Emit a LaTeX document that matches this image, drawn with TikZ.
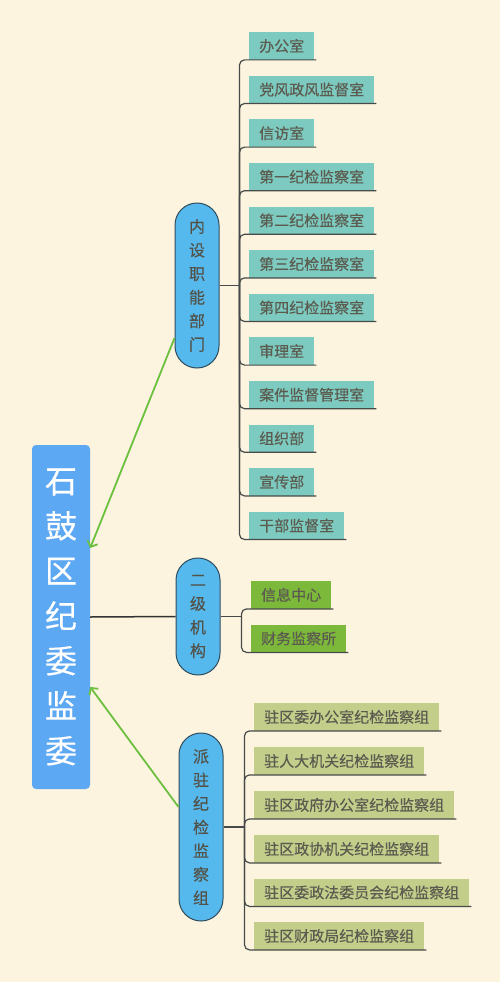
\documentclass[tikz,border=0pt]{standalone}
\usepackage{fontspec}
\setmainfont{Noto Sans CJK SC}[FakeBold=0.3]
\usepackage{xcolor}
\definecolor{cream}{HTML}{FCF4DF}
\definecolor{rootblue}{HTML}{5DA8F2}
\definecolor{pillblue}{HTML}{56B9EE}
\definecolor{pillline}{HTML}{2F4B5E}
\definecolor{tealbox}{HTML}{7DCBC0}
\definecolor{greenbox}{HTML}{7CB93B}
\definecolor{olivebox}{HTML}{C4CE8B}
\definecolor{stemgray}{HTML}{464A48}
\definecolor{linkgreen}{HTML}{6DBF3F}
\definecolor{leaftext}{HTML}{5C5B50}
\usepackage{tikz}
\usetikzlibrary{arrows.meta}

\begin{document}
\begin{tikzpicture}[x=1pt,y=-1pt,
		rootbox/.style={fill=rootblue,rounded corners=4pt,minimum width=58pt,minimum height=344pt,inner sep=0pt,align=center,text=white,font=\fontsize{32}{45}\selectfont},
		pill/.style={draw=pillline,fill=pillblue,line width=1pt,rounded corners=22pt,minimum width=44pt,inner sep=0pt,align=center,text=leaftext!90!black,font=\fontsize{16}{23.6}\selectfont},
		leaf/.style={anchor=north west,minimum height=27.5pt,inner xsep=10pt,inner ysep=0pt,text=leaftext,font=\fontsize{15}{18}\selectfont},
		stem/.style={draw=stemgray,line width=1.2pt,rounded corners=5pt},
		link/.style={draw=linkgreen,line width=1.8pt,-{Straight Barb[length=5pt,width=11pt]}}]
		\useasboundingbox[fill=cream] (0,0) rectangle (500,982);
		
		\node[rootbox] (root) at (61,617) {石\\鼓\\区\\纪\\委\\监\\委};
		
		\node[pill,minimum height=165pt] (inner) at (197,285.5) {内\\设\\职\\能\\部\\门};
		\node[pill,minimum height=117pt] (second) at (198,616.5) {二\\级\\机\\构};
		\node[pill,minimum height=188pt] (posted) at (201,827) {派\\驻\\纪\\检\\监\\察\\组};
		
		\draw[link] ([yshift=-52.5pt]inner.west) -- ([yshift=69pt]root.east); %%% ARROW UP
		\draw[stem,draw=black!80,line width=1.5pt] (root.east) -- (second.west);
		\draw[link] ([yshift=20pt]posted.west) -- ([yshift=-70pt]root.east); %%% ARROW DOWN
		
		%%% INNER DEPARTMENTS
		\node[leaf,fill=tealbox] (in1) at (249,32) {办公室};
		\node[leaf,fill=tealbox] (in2) at (249,75.6) {党风政风监督室};
		\node[leaf,fill=tealbox] (in3) at (249,119.2) {信访室};
		\node[leaf,fill=tealbox] (in4) at (249,162.8) {第一纪检监察室};
		\node[leaf,fill=tealbox] (in5) at (249,206.4) {第二纪检监察室};
		\node[leaf,fill=tealbox] (in6) at (249,250) {第三纪检监察室};
		\node[leaf,fill=tealbox] (in7) at (249,293.6) {第四纪检监察室};
		\node[leaf,fill=tealbox] (in8) at (249,337.2) {审理室};
		\node[leaf,fill=tealbox] (in9) at (249,380.8) {案件监督管理室};
		\node[leaf,fill=tealbox] (in10) at (249,424.4) {组织部};
		\node[leaf,fill=tealbox] (in11) at (249,468) {宣传部};
		\node[leaf,fill=tealbox] (in12) at (249,511.6) {干部监督室};
		
		\coordinate (injoin) at ([xshift=20pt]inner.east);
		\draw[stem] (inner.east) -- (injoin);
		\draw[stem] (injoin) |- ([xshift=2pt]in1.south east);
		\draw[stem] (injoin) |- ([xshift=2pt]in2.south east);
		\draw[stem] (injoin) |- ([xshift=2pt]in3.south east);
		\draw[stem] (injoin) |- ([xshift=2pt]in4.south east);
		\draw[stem] (injoin) |- ([xshift=2pt]in5.south east);
		\draw[stem] (injoin) |- ([xshift=2pt]in6.south east);
		\draw[stem] (injoin) |- ([xshift=2pt]in7.south east);
		\draw[stem] (injoin) |- ([xshift=2pt]in8.south east);
		\draw[stem] (injoin) |- ([xshift=2pt]in9.south east);
		\draw[stem] (injoin) |- ([xshift=2pt]in10.south east);
		\draw[stem] (injoin) |- ([xshift=2pt]in11.south east);
		\draw[stem] (injoin) |- ([xshift=2pt]in12.south east);
		
		%%% SECOND LEVEL UNITS
		\node[leaf,fill=greenbox] (sec1) at (251,581) {信息中心};
		\node[leaf,fill=greenbox] (sec2) at (251,624.5) {财务监察所};
		
		\coordinate (secjoin) at ([xshift=21pt]second.east);
		\draw[stem] (second.east) -- (secjoin);
		\draw[stem] (secjoin) |- ([xshift=2pt]sec1.south east);
		\draw[stem] (secjoin) |- ([xshift=2pt]sec2.south east);
		
		%%% POSTED GROUPS
		\node[leaf,fill=olivebox] (pos1) at (254,703) {驻区委办公室纪检监察组};
		\node[leaf,fill=olivebox] (pos2) at (254,747) {驻人大机关纪检监察组};
		\node[leaf,fill=olivebox] (pos3) at (254,791) {驻区政府办公室纪检监察组};
		\node[leaf,fill=olivebox] (pos4) at (254,835) {驻区政协机关纪检监察组};
		\node[leaf,fill=olivebox] (pos5) at (254,878.5) {驻区委政法委员会纪检监察组};
		\node[leaf,fill=olivebox] (pos6) at (254,922) {驻区财政局纪检监察组};
		
		\coordinate (posjoin) at ([xshift=21pt]posted.east);
		\draw[stem] (posted.east) -- (posjoin);
		\draw[stem] (posjoin) |- ([xshift=2pt]pos1.south east);
		\draw[stem] (posjoin) |- ([xshift=2pt]pos2.south east);
		\draw[stem] (posjoin) |- ([xshift=2pt]pos3.south east);
		\draw[stem] (posjoin) |- ([xshift=2pt]pos4.south east);
		\draw[stem] (posjoin) |- ([xshift=2pt]pos5.south east);
		\draw[stem] (posjoin) |- ([xshift=2pt]pos6.south east);
		
	\end{tikzpicture}
\end{document}
